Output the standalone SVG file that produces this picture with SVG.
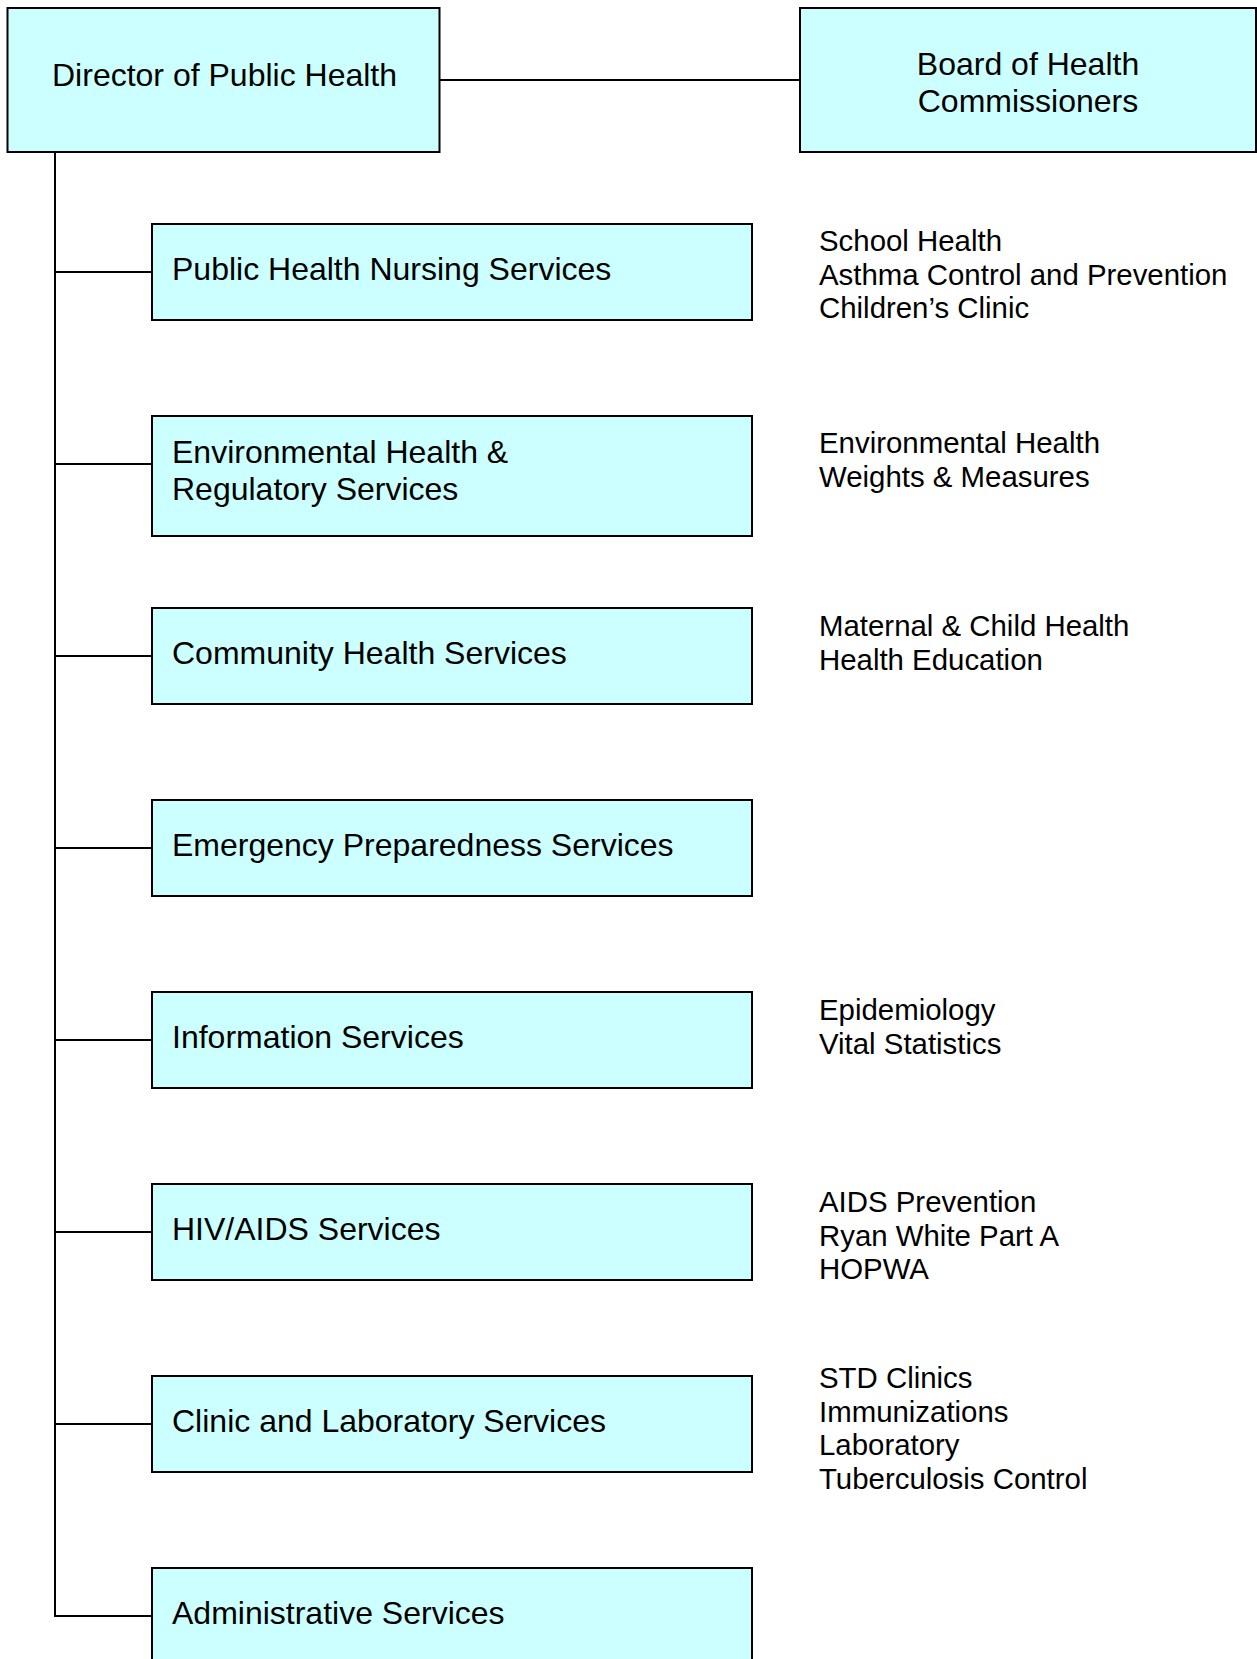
<svg xmlns="http://www.w3.org/2000/svg" width="1257" height="1659" viewBox="0 0 1257 1659">
<style>
.box{fill:#CCFFFF;stroke:#000;stroke-width:2}
.lbl{font-family:"Liberation Sans",Arial,sans-serif;font-size:32px;fill:#000}
.side{font-family:"Liberation Sans",Arial,sans-serif;font-size:29.4px;fill:#000}
.conn{stroke:#000;stroke-width:2;fill:none}
</style>
<rect x="0" y="0" width="1257" height="1659" fill="#FFFFFF"/>
<g id="connectors">
<line class="conn" x1="440" y1="80" x2="800" y2="80"/>
<line class="conn" x1="55" y1="152" x2="55" y2="1617"/>
<line class="conn" x1="54" y1="272" x2="152" y2="272"/>
<line class="conn" x1="54" y1="464" x2="152" y2="464"/>
<line class="conn" x1="54" y1="656" x2="152" y2="656"/>
<line class="conn" x1="54" y1="848" x2="152" y2="848"/>
<line class="conn" x1="54" y1="1040" x2="152" y2="1040"/>
<line class="conn" x1="54" y1="1232" x2="152" y2="1232"/>
<line class="conn" x1="54" y1="1424" x2="152" y2="1424"/>
<line class="conn" x1="54" y1="1616" x2="152" y2="1616"/>
</g>
<g id="director">
<rect class="box" x="7.5" y="8" width="432" height="144"/>
<text class="lbl" x="52" y="86">Director of Public Health</text>
</g>
<g id="board">
<rect class="box" x="800" y="8" width="456" height="144"/>
<text class="lbl" x="1028" y="75" text-anchor="middle">Board of Health</text>
<text class="lbl" x="1028" y="112" text-anchor="middle">Commissioners</text>
</g>
<g id="nursing">
<rect class="box" x="152" y="224" width="600" height="96"/>
<text class="lbl" x="172" y="280">Public Health Nursing Services</text>
<text class="side" x="819" y="251">School Health</text>
<text class="side" x="819" y="284.5">Asthma Control and Prevention</text>
<text class="side" x="819" y="318">Children’s Clinic</text>
</g>
<g id="environmental">
<rect class="box" x="152" y="416" width="600" height="120"/>
<text class="lbl" x="172" y="463">Environmental Health &amp;</text>
<text class="lbl" x="172" y="500">Regulatory Services</text>
<text class="side" x="819" y="453">Environmental Health</text>
<text class="side" x="819" y="486.5">Weights &amp; Measures</text>
</g>
<g id="community">
<rect class="box" x="152" y="608" width="600" height="96"/>
<text class="lbl" x="172" y="664">Community Health Services</text>
<text class="side" x="819" y="636">Maternal &amp; Child Health</text>
<text class="side" x="819" y="669.5">Health Education</text>
</g>
<g id="emergency">
<rect class="box" x="152" y="800" width="600" height="96"/>
<text class="lbl" x="172" y="856">Emergency Preparedness Services</text>
</g>
<g id="information">
<rect class="box" x="152" y="992" width="600" height="96"/>
<text class="lbl" x="172" y="1048">Information Services</text>
<text class="side" x="819" y="1020">Epidemiology</text>
<text class="side" x="819" y="1053.5">Vital Statistics</text>
</g>
<g id="hivaids">
<rect class="box" x="152" y="1184" width="600" height="96"/>
<text class="lbl" x="172" y="1240">HIV/AIDS Services</text>
<text class="side" x="819" y="1212">AIDS Prevention</text>
<text class="side" x="819" y="1245.5">Ryan White Part A</text>
<text class="side" x="819" y="1279">HOPWA</text>
</g>
<g id="clinic">
<rect class="box" x="152" y="1376" width="600" height="96"/>
<text class="lbl" x="172" y="1432">Clinic and Laboratory Services</text>
<text class="side" x="819" y="1388">STD Clinics</text>
<text class="side" x="819" y="1421.5">Immunizations</text>
<text class="side" x="819" y="1455">Laboratory</text>
<text class="side" x="819" y="1488.5">Tuberculosis Control</text>
</g>
<g id="administrative">
<rect class="box" x="152" y="1568" width="600" height="120"/>
<text class="lbl" x="172" y="1624">Administrative Services</text>
</g>
</svg>
